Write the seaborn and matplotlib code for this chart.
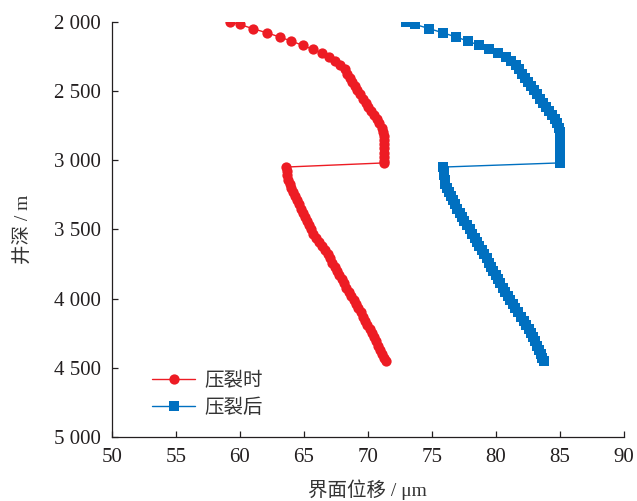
import pandas as pd
import matplotlib
matplotlib.use('Agg')
import matplotlib.pyplot as plt
import seaborn as sns
from matplotlib.ticker import FuncFormatter, MultipleLocator

# Depth (m) and interface displacement (um)
depth_during = [2000, 2020, 2050, 2080, 2110, 2140, 2170, 2200, 2225, 2255,
                2285, 2315, 2345, 2375, 2405, 2435, 2465, 2495, 2525, 2555,
                2585, 2615, 2645, 2675, 2705, 2735, 2765, 2795, 2825, 2855,
                2885, 2915, 2945, 2975, 3005, 3020,
                3050, 3080, 3110, 3140, 3170, 3200, 3230, 3260, 3290, 3320,
                3350, 3380, 3410, 3440, 3470, 3500, 3530, 3560, 3590, 3620,
                3650, 3680, 3710, 3740, 3770, 3800, 3830, 3860, 3890, 3920,
                3950, 3980, 4010, 4040, 4070, 4100, 4130, 4160, 4190, 4220,
                4250, 4280, 4310, 4340, 4370, 4400, 4430, 4450]
disp_during = [59.2, 60.0, 61.0, 62.1, 63.1, 64.0, 64.9, 65.7, 66.4, 67.0,
               67.45, 67.85, 68.2, 68.4, 68.6, 68.8, 68.97, 69.15, 69.37, 69.6,
               69.82, 70.05, 70.27, 70.48, 70.7, 70.9, 71.1, 71.2, 71.25, 71.25,
               71.25, 71.25, 71.25, 71.25, 71.3, 71.3,
               63.6, 63.65, 63.7, 63.78, 63.88, 64.0, 64.15, 64.3, 64.47, 64.63,
               64.78, 64.92, 65.07, 65.22, 65.38, 65.55, 65.75, 65.95, 66.2, 66.4,
               66.62, 66.85, 67.05, 67.23, 67.42, 67.6, 67.78, 67.96, 68.15, 68.33,
               68.52, 68.7, 68.9, 69.08, 69.26, 69.44, 69.62, 69.8, 69.97, 70.14,
               70.3, 70.46, 70.62, 70.78, 70.95, 71.1, 71.25, 71.4]

depth_after = depth_during
disp_after = [73.0, 73.7, 74.8, 75.85, 76.9, 77.8, 78.7, 79.5, 80.15, 80.8,
              81.2, 81.55, 81.82, 82.05, 82.28, 82.5, 82.73, 82.96, 83.2, 83.45,
              83.7, 83.95, 84.2, 84.42, 84.62, 84.8, 84.95, 85.0, 85.0, 85.0,
              85.0, 85.0, 85.0, 85.0, 85.0, 85.0,
              75.9, 75.92, 75.95, 76.0, 76.07, 76.18, 76.32, 76.47, 76.62, 76.8,
              76.98, 77.17, 77.36, 77.55, 77.75, 77.95, 78.15, 78.35, 78.53, 78.72,
              78.9, 79.1, 79.28, 79.46, 79.64, 79.82, 80.0, 80.18, 80.36, 80.55,
              80.74, 80.92, 81.1, 81.32, 81.54, 81.76, 81.98, 82.2, 82.38, 82.56,
              82.74, 82.9, 83.05, 83.2, 83.35, 83.5, 83.65, 83.78]

labels = ['压裂时', '压裂后']
x_ticks = [50, 55, 60, 65, 70, 75, 80, 85, 90]

# Theme first, then fonts (set_theme resets font.family)
sns.set_theme(style='white')
plt.rcParams['font.family'] = ['Liberation Serif', 'Noto Sans CJK SC']
plt.rcParams['axes.unicode_minus'] = False

df_during = pd.DataFrame({'depth': depth_during, 'disp': disp_during})
df_after = pd.DataFrame({'depth': depth_after, 'disp': disp_after})

fig = plt.figure(figsize=(6.37, 5.01), dpi=100)
ax = fig.add_axes([0.1758, 0.1277, 0.8033, 0.8290])

sns.lineplot(data=df_during, x='disp', y='depth', sort=False, estimator=None,
             color='#ED1C24', marker='o', markersize=7.4, markeredgewidth=0,
             linewidth=1.0, label=labels[0], ax=ax)
sns.lineplot(data=df_after, x='disp', y='depth', sort=False, estimator=None,
             color='#0070C0', marker='s', markersize=6.6, markeredgewidth=0,
             linewidth=1.0, label=labels[1], ax=ax)

ax.set_xlim(50, 90)
ax.set_ylim(5000, 2000)
ax.set_xticks(x_ticks)
ax.yaxis.set_major_locator(MultipleLocator(500))
ax.yaxis.set_major_formatter(FuncFormatter(lambda v, p: f'{int(v):,}'.replace(',', ' ')))

for side in ['top', 'right']:
    ax.spines[side].set_visible(False)
for side in ['left', 'bottom']:
    ax.spines[side].set_color('#231F20')
    ax.spines[side].set_linewidth(0.9)

ax.tick_params(axis='both', direction='in', length=4, width=0.9,
               colors='#231F20', labelsize=15, pad=8,
               left=True, bottom=True)

ax.set_xlabel('界面位移 / μm', fontsize=14, color='#333333', labelpad=9)
ax.set_ylabel('井深 / m', fontsize=14, color='#333333', labelpad=16)

leg = ax.legend(loc='upper left', bbox_to_anchor=(0.06, 0.18), frameon=False,
                fontsize=14, handlelength=2.2, handletextpad=0.45,
                labelspacing=0.45, borderpad=0)
for t in leg.get_texts():
    t.set_color('#333333')

fig.savefig('out.png', dpi=100)
